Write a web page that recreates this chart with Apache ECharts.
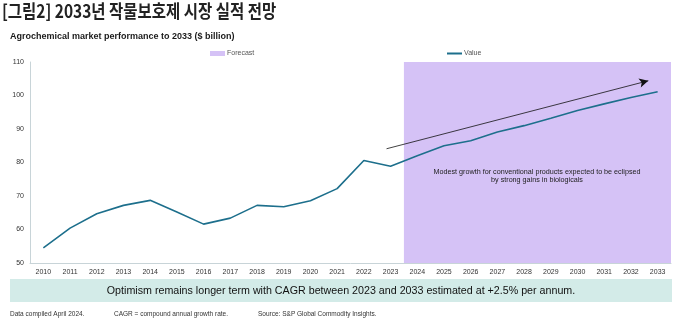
<!DOCTYPE html>
<html><head><meta charset="utf-8">
<script src="https://cdn.jsdelivr.net/npm/echarts@6/dist/echarts.min.js"></script>
<style>html,body{margin:0;padding:0;background:#fff}#c{width:680px;height:324px}</style>
</head><body><div id="c"></div>
<script>
const years = ['2010','2011','2012','2013','2014','2015','2016','2017','2018','2019','2020','2021','2022','2023','2024','2025','2026','2027','2028','2029','2030','2031','2032','2033'];
const values = [54.5,60.4,64.7,67.2,68.7,65.2,61.6,63.4,67.2,66.8,68.6,72.2,80.6,78.9,82.0,85.0,86.5,89.1,91.0,93.2,95.5,97.5,99.4,101.1];
const forecastRange = ['2024','2033'];
const yRange = [50, 110];
const arrowStart = [12.85, 84.1];
const arrowEnd = [22.65, 104.4];

const fx0 = years.indexOf(forecastRange[0]) - 0.5;
const fx1 = years.indexOf(forecastRange[1]) + 0.5;

const chart = echarts.init(document.getElementById('c'), null, {renderer:'canvas'});
chart.setOption({
  animation:false,
  backgroundColor:'#fff',
  graphic:[
    {type:'text', left:2, top:2, scaleX:0.86, style:{text:'[그림2] 2033년 작물보호제 시장 실적 전망', font:'bold 18px "Noto Sans CJK KR"', fill:'#222'}},
    {type:'text', left:10, top:32, style:{text:'Agrochemical market performance to 2033 ($ billion)', font:'bold 9px "Liberation Sans", Arial', fill:'#1a1a1a'}},
    {type:'rect', shape:{x:10,y:279,width:662,height:23}, style:{fill:'#d3ebe8'}},
    {type:'text', x:341, y:291, style:{text:'Optimism remains longer term with CAGR between 2023 and 2033 estimated at +2.5% per annum.', font:'10.7px "Liberation Sans", Arial', fill:'#111', align:'center', verticalAlign:'middle'}},
    {type:'text', left:10, top:311, style:{text:'Data compiled April 2024.', font:'6.5px "Liberation Sans", Arial', fill:'#333'}},
    {type:'text', left:114, top:311, style:{text:'CAGR = compound annual growth rate.', font:'6.5px "Liberation Sans", Arial', fill:'#333'}},
    {type:'text', left:258, top:311, style:{text:'Source: S&P Global Commodity Insights.', font:'6.5px "Liberation Sans", Arial', fill:'#333'}},
    {type:'text', z:100, x:537, y:176, style:{text:'Modest growth for conventional products expected to be eclipsed\nby strong gains in biologicals', font:'7.2px "Liberation Sans", Arial', fill:'#222', align:'center', verticalAlign:'middle', lineHeight:8.5}}
  ],
  legend:[
    {data:['Forecast'], left:205, top:45, itemWidth:15, itemHeight:5, itemGap:4, textStyle:{fontSize:7, color:'#555', fontFamily:'Liberation Sans', padding:[0,0,0,-3]}, icon:'rect'},
    {data:['Value'], left:442, top:45, itemWidth:15, itemHeight:2, icon:'rect', textStyle:{fontSize:7, color:'#555', fontFamily:'Liberation Sans', padding:[0,0,0,-3]}}
  ],
  grid:{left:30, right:9, top:62, bottom:61},
  xAxis:[
    {type:'category', data:years, boundaryGap:true,
     axisLine:{lineStyle:{color:'#c8d4d8'}}, axisTick:{show:false},
     axisLabel:{fontSize:7, color:'#333', fontFamily:'Liberation Sans', margin:6, interval:0}},
    {type:'value', min:-0.5, max:years.length - 0.5, show:false}
  ],
  yAxis:{type:'value', min:yRange[0], max:yRange[1], interval:10,
    axisLine:{show:true, onZero:false, lineStyle:{color:'#c8d4d8'}}, axisTick:{show:false}, splitLine:{show:false},
    axisLabel:{fontSize:7, color:'#333', fontFamily:'Liberation Sans', margin:6}},
  series:[
    {name:'Forecast', type:'line', xAxisIndex:1, data:[], symbol:'none', itemStyle:{color:'#d5c2f6'}, z:1,
     markArea:{silent:true, itemStyle:{color:'#d5c2f6'}, data:[[{coord:[fx0, yRange[0]]},{coord:[fx1, yRange[1]]}]]}},
    {name:'Value', type:'line', data:values, symbol:'none', lineStyle:{color:'#1d6f8c', width:1.6}, itemStyle:{color:'#1d6f8c'}, z:3},
    {name:'arrow', type:'line', xAxisIndex:1, data:[], symbol:'none', z:4,
     markLine:{silent:true, symbol:['none','arrow'], symbolSize:[7,9], label:{show:false},
       lineStyle:{color:'#111', width:0.8, type:'solid'},
       data:[[{coord:arrowStart},{coord:arrowEnd}]]}}
  ]
});
</script></body></html>
